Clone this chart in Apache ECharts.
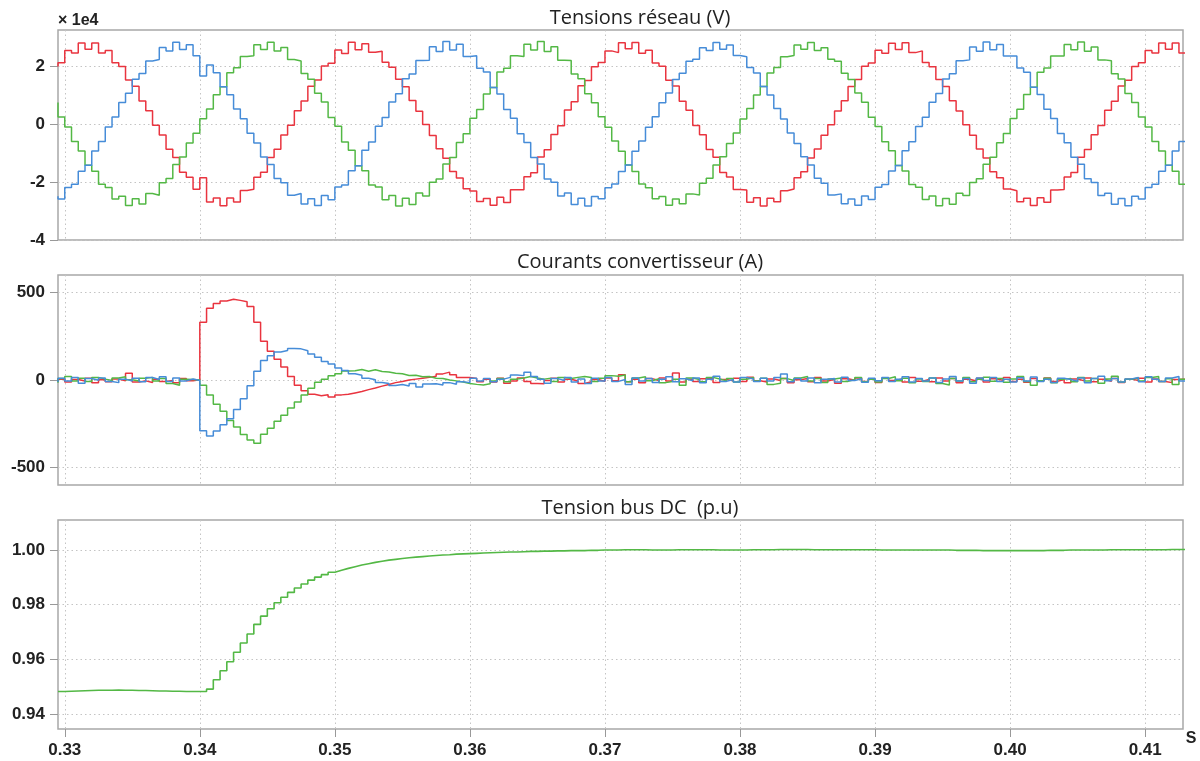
<!DOCTYPE html>
<html>
<head>
<meta charset="utf-8">
<script src="https://cdn.jsdelivr.net/npm/echarts@6/dist/echarts.min.js"></script>
<style>
html,body{margin:0;padding:0;background:#fff;}
#chart{width:1200px;height:761px;}
</style>
</head>
<body>
<div id="chart"></div>
<script>
// ---- time samples (s) ----
const time = [
0.3295,0.3300,0.3305,0.3310,0.3315,0.3320,0.3325,0.3330,0.3335,0.3340,
0.3345,0.3350,0.3355,0.3360,0.3365,0.3370,0.3375,0.3380,0.3385,0.3390,
0.3395,0.3400,0.3405,0.3410,0.3415,0.3420,0.3425,0.3430,0.3435,0.3440,
0.3445,0.3450,0.3455,0.3460,0.3465,0.3470,0.3475,0.3480,0.3485,0.3490,
0.3495,0.3500,0.3505,0.3510,0.3515,0.3520,0.3525,0.3530,0.3535,0.3540,
0.3545,0.3550,0.3555,0.3560,0.3565,0.3570,0.3575,0.3580,0.3585,0.3590,
0.3595,0.3600,0.3605,0.3610,0.3615,0.3620,0.3625,0.3630,0.3635,0.3640,
0.3645,0.3650,0.3655,0.3660,0.3665,0.3670,0.3675,0.3680,0.3685,0.3690,
0.3695,0.3700,0.3705,0.3710,0.3715,0.3720,0.3725,0.3730,0.3735,0.3740,
0.3745,0.3750,0.3755,0.3760,0.3765,0.3770,0.3775,0.3780,0.3785,0.3790,
0.3795,0.3800,0.3805,0.3810,0.3815,0.3820,0.3825,0.3830,0.3835,0.3840,
0.3845,0.3850,0.3855,0.3860,0.3865,0.3870,0.3875,0.3880,0.3885,0.3890,
0.3895,0.3900,0.3905,0.3910,0.3915,0.3920,0.3925,0.3930,0.3935,0.3940,
0.3945,0.3950,0.3955,0.3960,0.3965,0.3970,0.3975,0.3980,0.3985,0.3990,
0.3995,0.4000,0.4005,0.4010,0.4015,0.4020,0.4025,0.4030,0.4035,0.4040,
0.4045,0.4050,0.4055,0.4060,0.4065,0.4070,0.4075,0.4080,0.4085,0.4090,
0.4095,0.4100,0.4105,0.4110,0.4115,0.4120,0.4125,0.4130
];

// ---- grid voltages (x 1e4 V) ----
const voltRed = [
1.98,2.11,2.53,2.45,2.79,2.58,2.79,2.45,2.53,2.11,
1.98,1.52,1.30,0.79,0.46,-0.04,-0.38,-0.87,-1.16,-1.66,
-1.84,-2.25,-1.85,-2.69,-2.55,-2.82,-2.55,-2.69,-2.29,-2.25,
-1.84,-1.66,-1.16,-0.87,-0.38,-0.04,0.46,0.79,1.30,1.52,
2.00,2.09,2.55,2.43,2.82,2.56,2.77,2.47,2.51,2.13,
1.96,1.54,1.28,0.81,0.44,-0.02,-0.40,-0.85,-1.18,-1.64,
-1.86,-2.23,-2.31,-2.67,-2.57,-2.80,-2.53,-2.71,-2.27,-2.27,
-1.82,-1.68,-1.14,-0.89,-0.36,-0.06,0.48,0.77,1.32,1.50,
1.97,2.12,2.52,2.46,2.80,2.59,2.81,2.44,2.54,2.10,
1.99,1.51,1.31,0.78,0.47,-0.05,-0.37,-0.88,-1.15,-1.67,
-1.83,-2.26,-2.28,-2.70,-2.54,-2.83,-2.56,-2.68,-2.30,-2.24,
-1.85,-1.65,-1.17,-0.86,-0.39,-0.03,0.45,0.80,1.29,1.53,
1.99,2.10,2.54,2.44,2.78,2.57,2.80,2.46,2.52,2.12,
1.97,1.53,1.29,0.80,0.45,-0.03,-0.39,-0.86,-1.17,-1.65,
-1.85,-2.24,-2.30,-2.68,-2.56,-2.81,-2.54,-2.70,-2.28,-2.26,
-1.83,-1.67,-1.15,-0.88,-0.37,-0.05,0.47,0.78,1.31,1.51,
1.98,2.11,2.53,2.45,2.79,2.58,2.79,2.45
];
const voltBlue = [
-2.49,-2.59,-2.19,-2.08,-1.63,-1.42,-0.93,-0.60,-0.10,0.24,
0.74,1.06,1.54,1.74,2.17,2.22,2.64,2.52,2.82,2.57,
2.73,2.35,1.65,2.03,1.77,1.28,1.01,0.52,0.18,-0.32,
-0.66,-1.14,-1.40,-1.88,-2.03,-2.46,-2.40,-2.76,-2.58,-2.81,
-2.47,-2.61,-2.17,-2.10,-1.61,-1.44,-0.91,-0.62,-0.08,0.22,
0.76,1.04,1.56,1.72,2.19,2.20,2.66,2.50,2.84,2.55,
2.75,2.33,2.35,1.92,1.79,1.26,1.03,0.50,0.20,-0.34,
-0.64,-1.16,-1.38,-1.90,-2.01,-2.48,-2.38,-2.78,-2.56,-2.83,
-2.50,-2.58,-2.20,-2.07,-1.64,-1.41,-0.94,-0.59,-0.11,0.25,
0.73,1.07,1.53,1.75,2.16,2.23,2.63,2.53,2.81,2.58,
2.72,2.36,2.32,1.95,1.76,1.29,1.00,0.53,0.17,-0.31,
-0.67,-1.13,-1.41,-1.87,-2.04,-2.45,-2.41,-2.75,-2.59,-2.80,
-2.48,-2.60,-2.18,-2.09,-1.62,-1.43,-0.92,-0.61,-0.09,0.23,
0.75,1.05,1.55,1.73,2.18,2.21,2.65,2.51,2.83,2.56,
2.74,2.34,2.34,1.93,1.78,1.27,1.02,0.51,0.19,-0.33,
-0.65,-1.15,-1.39,-1.89,-2.02,-2.47,-2.39,-2.77,-2.57,-2.82,
-2.49,-2.59,-2.19,-2.08,-1.63,-1.42,-0.93,-0.60
];
const voltGreen = [
0.74,0.24,-0.10,-0.60,-0.93,-1.42,-1.63,-2.08,-2.19,-2.59,
-2.49,-2.81,-2.58,-2.76,-2.40,-2.46,-2.03,-1.88,-1.40,-1.14,
-0.66,-0.32,0.18,0.52,1.01,1.28,1.77,1.94,2.33,2.35,
2.73,2.57,2.82,2.52,2.64,2.22,2.17,1.74,1.54,1.06,
0.76,0.22,-0.08,-0.62,-0.91,-1.44,-1.61,-2.10,-2.17,-2.61,
-2.47,-2.83,-2.56,-2.78,-2.38,-2.48,-2.01,-1.90,-1.38,-1.16,
-0.64,-0.34,0.20,0.50,1.03,1.26,1.79,1.92,2.35,2.33,
2.75,2.55,2.84,2.50,2.66,2.20,2.19,1.72,1.56,1.04,
0.73,0.25,-0.11,-0.59,-0.94,-1.41,-1.64,-2.07,-2.20,-2.58,
-2.50,-2.80,-2.59,-2.75,-2.41,-2.45,-2.04,-1.87,-1.41,-1.13,
-0.67,-0.31,0.17,0.53,1.00,1.29,1.76,1.95,2.32,2.36,
2.72,2.58,2.81,2.53,2.63,2.23,2.16,1.75,1.53,1.07,
0.75,0.23,-0.09,-0.61,-0.92,-1.43,-1.62,-2.09,-2.18,-2.60,
-2.48,-2.82,-2.57,-2.77,-2.39,-2.47,-2.02,-1.89,-1.39,-1.15,
-0.65,-0.33,0.19,0.51,1.02,1.27,1.78,1.93,2.34,2.34,
2.74,2.56,2.83,2.51,2.65,2.21,2.18,1.73,1.55,1.05,
0.74,0.24,-0.10,-0.60,-0.93,-1.42,-1.63,-2.08
];

// ---- converter currents (A) ----
const curRed = [
-8,5,-12,3,-6,10,-15,2,-10,6,
-4,38,-12,-5,-14,4,-9,-3,-16,8,
-4,2,330,410,437,452,462,455,447,420,
330,222,165,118,75,20,-30,-62,-82,-90,
-84,-97,-85,-82,-74,-66,-55,-46,-35,-26,
-15,-8,0,5,10,15,22,35,45,30,
15,15,8,-10,5,-12,10,-18,-5,12,
-8,-20,-22,-3,10,-12,4,-6,-20,-10,
3,-8,12,-4,30,-10,5,-15,8,-3,
11,-6,40,-12,4,-9,7,12,-14,3,
-5,10,-8,16,-4,-12,6,-3,9,-15,
2,8,-10,14,-6,4,-18,7,-2,12,
-9,5,-14,10,-3,6,-11,15,-7,3,
-10,12,-5,8,-16,4,-6,10,-12,7,
-3,14,-9,5,-13,9,-4,11,-8,3,
-15,6,-5,12,-10,4,-7,9,-14,5,
-3,10,-12,6,-8,-15,3,5
];
const curBlue = [
-12,10,-5,15,-18,8,-2,12,-8,-15,
5,-6,10,-10,14,3,18,-8,12,-5,
6,-3,-290,-320,-292,-256,-222,-168,-107,-33,
50,112,138,160,168,180,178,167,148,130,
106,92,68,54,36,27,10,2,-14,-20,
-32,-26,-34,-20,-40,-23,-22,-28,-15,-24,
-10,-15,10,-5,8,-10,5,15,28,25,
45,20,5,-18,8,-3,14,-12,6,-20,
10,-5,15,-8,3,-25,12,-6,9,-14,
4,18,-10,7,-4,12,-16,5,22,-8,
3,-12,15,6,-9,10,-5,14,35,-10,
8,-6,12,-15,4,9,-11,16,-3,7,
-13,10,-4,14,-9,5,18,-12,8,-6,
11,-14,6,20,-5,9,-18,12,-3,15,
-8,4,-11,13,-6,17,-9,5,-14,10,
3,-7,12,-16,8,22,-4,9,-12,6,
14,-10,18,5,-8,12,20,-5
];
const curGreen = [
-15,8,20,-5,10,-8,15,5,-3,12,
18,2,-6,10,15,-5,8,-20,-30,5,
3,0,-30,-85,-138,-178,-232,-268,-312,-343,
-362,-310,-276,-235,-201,-160,-126,-85,-47,-13,
5,24,36,52,53,60,50,58,48,46,
38,36,26,27,18,20,10,9,0,-5,
-12,-20,-25,-28,-22,-5,8,-10,5,12,
20,12,5,10,-8,15,8,15,20,14,
-8,10,25,22,28,-10,12,18,-4,7,
-15,-8,5,-30,12,3,-10,15,6,-5,
9,-12,4,14,-6,10,-25,-18,8,-3,
12,20,-5,9,-14,6,11,-8,3,15,
-10,5,-12,8,18,-4,10,-15,6,-9,
12,-20,-28,8,-5,14,-10,4,16,-7,
9,-13,6,20,-8,-30,-4,10,-16,5,
8,-10,15,-5,9,-18,6,22,-12,4,
11,-6,14,20,-9,7,-25,5
];

// ---- DC bus voltage (p.u) ----
const busDC = [
0.9482,0.9482,0.9483,0.9484,0.9485,0.9486,0.9487,0.9487,0.9487,0.9488,
0.9487,0.9487,0.9486,0.9486,0.9485,0.9484,0.9484,0.9483,0.9483,0.9482,
0.9482,0.9482,0.9482,0.9491,0.9525,0.9558,0.9591,0.9626,0.9660,0.9693,
0.9728,0.9758,0.9785,0.9807,0.9827,0.9845,0.9861,0.9876,0.9890,0.9901,
0.9910,0.9919,0.9926,0.9933,0.9939,0.9945,0.9950,0.9955,0.9959,0.9963,
0.9966,0.9969,0.9972,0.9974,0.9976,0.9978,0.9980,0.9982,0.9983,0.9985,
0.9986,0.9987,0.9988,0.9989,0.9990,0.9991,0.9992,0.9993,0.9993,0.9994,
0.9995,0.9995,0.9996,0.9996,0.9997,0.9997,0.9998,0.9998,0.9998,0.9999,
0.9999,1.0000,1.0000,1.0000,1.0001,1.0001,1.0001,1.0001,1.0000,1.0000,
1.0000,1.0000,1.0001,1.0001,1.0001,1.0001,1.0001,1.0001,1.0000,1.0000,
1.0000,1.0000,1.0000,1.0001,1.0001,1.0001,1.0001,1.0002,1.0002,1.0002,
1.0002,1.0002,1.0001,1.0001,1.0001,1.0001,1.0001,1.0001,1.0001,1.0001,
1.0001,1.0001,1.0000,1.0000,1.0000,1.0000,1.0000,1.0000,1.0000,1.0000,
1.0000,1.0000,1.0000,0.9999,0.9999,0.9999,0.9999,0.9998,0.9998,0.9998,
0.9998,0.9998,0.9998,0.9998,0.9998,0.9998,0.9998,0.9999,0.9999,0.9999,
1.0000,1.0000,1.0000,1.0000,1.0000,1.0000,1.0001,1.0001,1.0001,1.0001,
1.0001,1.0001,1.0001,1.0001,1.0001,1.0002,1.0002,1.0002
];

// ---- ticks & labels ----
const xTicks = [0.33,0.34,0.35,0.36,0.37,0.38,0.39,0.40,0.41];
const yTicksV = [-4,-2,0,2];
const yTicksI = [-500,0,500];
const yTicksDC = [0.94,0.96,0.98,1.00];
const titles = ['Tensions réseau (V)','Courants convertisseur (A)','Tension bus DC  (p.u)'];
const voltUnitLabel = '× 1e4';
const xUnitLabel = 's';

const COLORS = {red:'#e9343f', blue:'#468cd8', green:'#53b845'};
const pair = arr => time.map((t,i)=>[t, arr[i]]);

const grids = [
  {left:58, right:17, top:30, height:210},
  {left:58, right:17, top:275, height:210},
  {left:58, right:17, top:520, height:209}
].map(g => Object.assign(g, {show:true, borderColor:'#a8a8a8', borderWidth:1.5, backgroundColor:'transparent', containLabel:false}));

const labelFont = {fontFamily:'"Liberation Sans", Arial, sans-serif', fontSize:17, fontWeight:'bold', color:'#222'};
const dotted = {show:true, lineStyle:{color:'#c4c4c4', type:[1.5,3], width:1}};

const xAxes = [0,1,2].map(i => ({
  type:'value', gridIndex:i, min:0.3295, max:0.4128,
  axisLine:{show:false},
  axisTick:{show:i===2, customValues:xTicks, length:8, lineStyle:{color:'#999'}},
  axisLabel:Object.assign({show:i===2, customValues:xTicks, margin:13, formatter:v=>v.toFixed(2)}, labelFont),
  splitLine:dotted
}));

const yDefs = [
  {min:-4, max:3.24, ticks:yTicksV, fmt:v=>String(v)},
  {min:-600, max:600, ticks:yTicksI, fmt:v=>String(v)},
  {min:0.9345, max:1.011, ticks:yTicksDC, fmt:v=>v.toFixed(2)}
];
const yAxes = yDefs.map((d,i) => ({
  type:'value', gridIndex:i, min:d.min, max:d.max,
  axisLine:{show:false},
  axisTick:{show:true, customValues:d.ticks, length:8, lineStyle:{color:'#999'}},
  axisLabel:Object.assign({customValues:d.ticks, margin:13, formatter:d.fmt}, labelFont),
  splitLine:dotted
}));

function mk(arr, color, gi, w){
  return {type:'line', xAxisIndex:gi, yAxisIndex:gi, data:pair(arr), step:'start',
    showSymbol:false, symbol:'none', lineStyle:{color:color, width:w||1.5}, itemStyle:{color:color},
    animation:false, silent:true};
}

const series = [
  mk(voltRed, COLORS.red, 0), mk(voltGreen, COLORS.green, 0), mk(voltBlue, COLORS.blue, 0),
  mk(curRed, COLORS.red, 1), mk(curGreen, COLORS.green, 1), mk(curBlue, COLORS.blue, 1),
  mk(busDC, COLORS.green, 2, 1.6)
];

function txt(text, x, y, font, align){
  return {type:'text', x:x, y:y, silent:true,
    style:{text:text, fill:'#222', font:font, align:align||'center', verticalAlign:'middle',
           textAlign:align||'center', textVerticalAlign:'middle'}};
}

const graphic = [
  txt(titles[0], 640, 18, '20px "Open Sans"'),
  txt(titles[1], 640, 262, '20px "Open Sans"'),
  txt(titles[2], 640, 508, '20px "Open Sans"'),
  txt(voltUnitLabel, 58, 21, 'bold 16px "Liberation Sans"', 'left'),
  txt(xUnitLabel.toUpperCase(), 1191, 739, 'bold 16px "Liberation Sans"')
];

const chart = echarts.init(document.getElementById('chart'), null, {renderer:'canvas'});
chart.setOption({
  animation:false,
  backgroundColor:'#ffffff',
  grid:grids, xAxis:xAxes, yAxis:yAxes, series:series, graphic:graphic
});
</script>
</body>
</html>
